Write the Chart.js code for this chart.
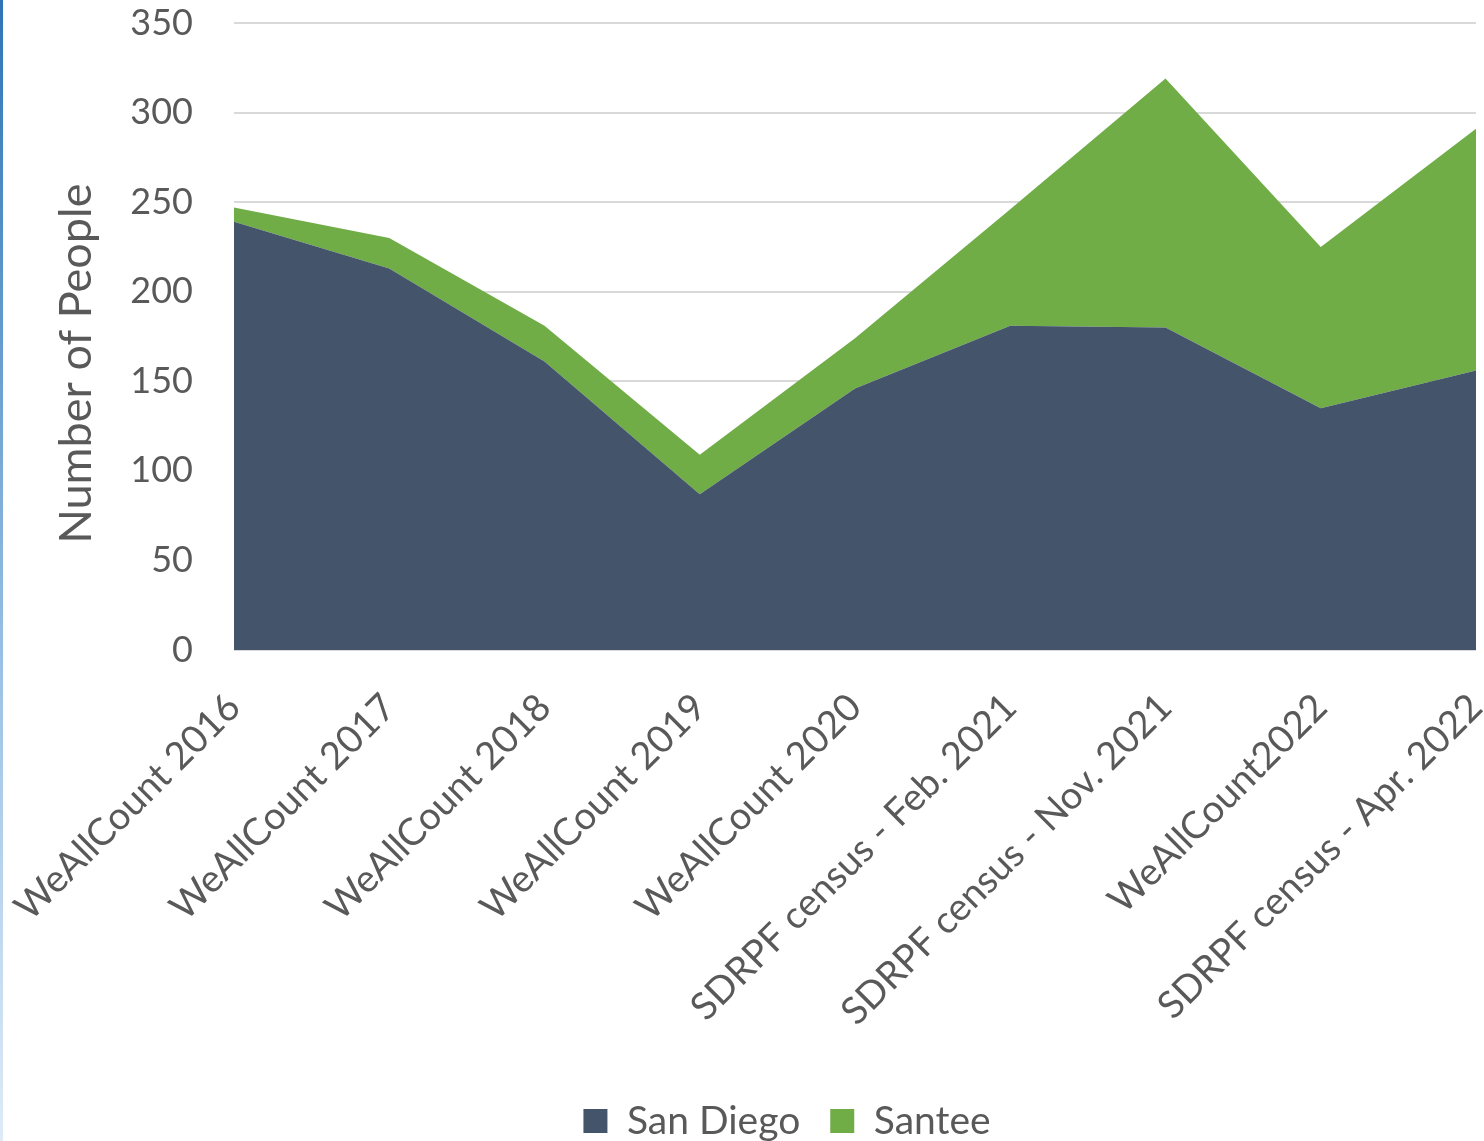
<!DOCTYPE html>
<html>
<head>
<meta charset="utf-8">
<script src="https://cdn.jsdelivr.net/npm/chart.js@4/dist/chart.umd.min.js"></script>
<style>
  html, body { margin: 0; padding: 0; background: #ffffff; }
  #wrap { position: relative; width: 1484px; height: 1141px; }
  #edge { position: absolute; left: 0; top: 0; width: 3px; height: 1141px; z-index: 2;
          background: linear-gradient(#2E75B6, #9DC3E6 60%, #DEEBF7); }
  canvas { position: absolute; left: 0; top: 0; }
</style>
</head>
<body>
<div id="wrap">
  <div id="edge"></div>
  <canvas id="chart" width="1484" height="1141"></canvas>
</div>
<script>
// Count periods along the x axis
const categories = [
  'WeAllCount 2016',
  'WeAllCount 2017',
  'WeAllCount 2018',
  'WeAllCount 2019',
  'WeAllCount 2020',
  'SDRPF census - Feb. 2021',
  'SDRPF census - Nov. 2021',
  'WeAllCount2022',
  'SDRPF census - Apr. 2022'
];

// People counted in each area (stacked)
const sanDiego = [239, 213, 161, 87, 146, 181, 180, 135, 156];
const santee   = [8, 17, 20, 22, 28, 65, 139, 90, 135];

// Value axis range
const yMin = 0;
const yMax = 350;
const yStep = 50;

const textColor = '#595959';
const fontFamily = 'Lato, "Open Sans", sans-serif';

// Moves the legend row so it sits centred under the plot
const legendShift = {
  id: 'legendShift',
  afterLayout(chart) {
    const lg = chart.legend;
    if (!lg) return;
    const dx = 49;
    lg.left += dx;
    lg.right += dx;
    const pad = chart.options.plugins.legend.labels.padding;
    const size = chart.options.plugins.legend.labels.font.size;
    const h = lg.bottom - lg.top;
    lg.top = 1121 - pad - size / 2;
    lg.bottom = lg.top + h;
  }
};

new Chart(document.getElementById('chart'), {
  type: 'line',
  data: {
    labels: categories,
    datasets: [
      {
        label: 'San Diego',
        data: sanDiego,
        backgroundColor: '#44546A',
        borderColor: '#44546A',
        borderWidth: 0,
        pointRadius: 0,
        fill: 'origin',
        tension: 0
      },
      {
        label: 'Santee',
        data: santee,
        backgroundColor: '#70AD47',
        borderColor: '#70AD47',
        borderWidth: 0,
        pointRadius: 0,
        fill: '-1',
        tension: 0
      }
    ]
  },
  options: {
    responsive: false,
    animation: false,
    layout: { padding: { top: 23, right: 8, left: 0, bottom: 0 } },
    plugins: {
      tooltip: { enabled: false },
      legend: {
        position: 'bottom',
        labels: {
          color: textColor,
          font: { family: fontFamily, size: 39 },
          boxWidth: 24,
          boxHeight: 24,
          padding: 30
        }
      }
    },
    scales: {
      x: {
        offset: false,
        grid: { display: false },
        border: { display: false },
        ticks: {
          color: textColor,
          font: { family: fontFamily, size: 38 },
          autoSkip: false,
          maxRotation: 45,
          minRotation: 45,
          padding: 27
        },
        afterFit(scale) {
          scale.height = 412;
          scale.paddingLeft = 0;
          scale.paddingRight = 0;
        }
      },
      y: {
        stacked: true,
        min: yMin,
        max: yMax,
        ticks: {
          stepSize: yStep,
          color: textColor,
          font: { family: fontFamily, size: 36 },
          padding: 41
        },
        grid: { color: '#D9D9D9', lineWidth: 2, drawTicks: false },
        border: { display: false },
        title: {
          display: true,
          text: 'Number of People',
          color: textColor,
          font: { family: fontFamily, size: 45 },
          padding: { top: 49, bottom: 0 }
        },
        afterFit(scale) {
          scale.width = 234;
          scale.paddingTop = 0;
          scale.paddingBottom = 0;
          if (!scale._titleWrapped) {
            const draw = scale.drawTitle.bind(scale);
            scale.drawTitle = function () {
              const ctx = scale.ctx;
              ctx.save();
              ctx.translate(0, 27);
              draw();
              ctx.restore();
            };
            scale._titleWrapped = true;
          }
        }
      }
    }
  },
  plugins: [legendShift]
});
</script>
</body>
</html>
